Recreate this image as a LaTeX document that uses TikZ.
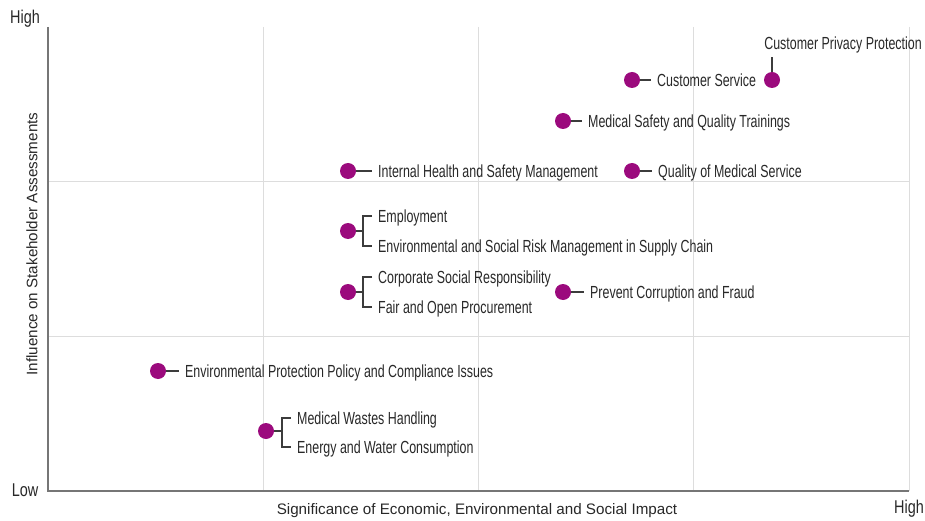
\documentclass[tikz,border=0pt]{standalone}
\usepackage{fontspec}
\setmainfont{Liberation Sans}
\newfontfamily\narrowfont[FakeStretch=0.71]{Liberation Sans}
\newfontfamily\ticknarrow[FakeStretch=0.78]{Liberation Sans}
\definecolor{dotc}{RGB}{155,10,125}
\definecolor{axisc}{RGB}{118,118,118}
\definecolor{gridc}{RGB}{221,221,221}
\definecolor{txtc}{RGB}{40,40,40}
\definecolor{linec}{RGB}{60,60,60}
\tikzset{
  dotnode/.style={circle,fill=dotc,minimum size=16pt,inner sep=0pt},
  lbl/.style={anchor=west,inner sep=0pt,text height=12.6pt,text depth=0pt,font=\narrowfont\fontsize{17.5}{20}\selectfont,text=txtc},
  ticklbl/.style={inner sep=0pt,font=\ticknarrow\fontsize{18.5}{21}\selectfont,text=txtc},
  axtitle/.style={inner sep=0pt,font=\fontsize{15.2}{18}\selectfont,text=txtc},
  conn/.style={draw=linec,line width=1.1pt},
  gridl/.style={draw=gridc,line width=1pt},
  axisl/.style={draw=axisc,line width=1.6pt}
}
\begin{document}
\begin{tikzpicture}[x=1pt,y=-1pt]
\useasboundingbox (0,0) rectangle (925,521);
% grid
\foreach \gx in {263,478,693,909} \draw[gridl] (\gx,27) -- (\gx,491);
\foreach \gy in {182,336} \draw[gridl] (48,\gy) -- (909,\gy);
% axes
\coordinate (o) at (48,491);
\coordinate (ytop) at (48,27);
\coordinate (xend) at (909,491);
\draw[axisl] (ytop) -- (o) -- (xend);
% axis labels
\node[ticklbl] (yhigh) at (25,19) {High};
\node[ticklbl] (ylow) at (25,490) {Low};
\node[ticklbl] (xhigh) at (909,509) {High};
\node[axtitle] (xtitle) at (477,511) {Significance of Economic, Environmental and Social Impact};
\node[axtitle,rotate=90] (ytitle) at (32,244) {Influence on Stakeholder Assessments};

% Customer Privacy Protection
\node[dotnode] (d1) at (772,80) {};
\node[lbl,anchor=south,text depth=4pt] (l1) at (843,54) {Customer Privacy Protection};
\draw[conn,shorten >=3pt] (d1.north) -- (d1.north |- l1.south);

% Customer Service
\node[dotnode] (d2) at (632,80) {};
\node[lbl] (l2) at (657,80) {Customer Service};
\draw[conn,shorten >=6pt] (d2.east) -- (l2.west);

% Medical Safety and Quality Trainings
\node[dotnode] (d3) at (563,121) {};
\node[lbl] (l3) at (588,121) {Medical Safety and Quality Trainings};
\draw[conn,shorten >=6pt] (d3.east) -- (l3.west);

% Internal Health and Safety Management
\node[dotnode] (d4) at (348,171) {};
\node[lbl] (l4) at (378,171) {Internal Health and Safety Management};
\draw[conn,shorten >=6pt] (d4.east) -- (l4.west);

% Quality of Medical Service
\node[dotnode] (d5) at (632,171) {};
\node[lbl] (l5) at (658,171) {Quality of Medical Service};
\draw[conn,shorten >=6pt] (d5.east) -- (l5.west);

% Employment group
\node[dotnode] (d6) at (348,231) {};
\coordinate (b6) at (363,231);
\node[lbl] (l6a) at (378,216) {Employment};
\node[lbl] (l6b) at (378,246) {Environmental and Social Risk Management in Supply Chain};
\draw[conn] (d6.east) -- (b6);
\draw[conn] ([xshift=-6pt]l6a.west) -| (b6) |- ([xshift=-6pt]l6b.west);

% CSR group
\node[dotnode] (d7) at (348,292) {};
\coordinate (b7) at (363,292);
\node[lbl] (l7a) at (378,277) {Corporate Social Responsibility};
\node[lbl] (l7b) at (378,307) {Fair and Open Procurement};
\draw[conn] (d7.east) -- (b7);
\draw[conn] ([xshift=-6pt]l7a.west) -| (b7) |- ([xshift=-6pt]l7b.west);

% Prevent Corruption and Fraud
\node[dotnode] (d8) at (563,292) {};
\node[lbl] (l8) at (590,292) {Prevent Corruption and Fraud};
\draw[conn,shorten >=6pt] (d8.east) -- (l8.west);

% Environmental Protection
\node[dotnode] (d9) at (158,371) {};
\node[lbl] (l9) at (185,371) {Environmental Protection Policy and Compliance Issues};
\draw[conn,shorten >=6pt] (d9.east) -- (l9.west);

% Medical Wastes group
\node[dotnode] (d10) at (266,431) {};
\coordinate (b10) at (282,431);
\node[lbl] (l10a) at (297,418) {Medical Wastes Handling};
\node[lbl] (l10b) at (297,447) {Energy and Water Consumption};
\draw[conn] (d10.east) -- (b10);
\draw[conn] ([xshift=-6pt]l10a.west) -| (b10) |- ([xshift=-6pt]l10b.west);
\end{tikzpicture}
\end{document}
